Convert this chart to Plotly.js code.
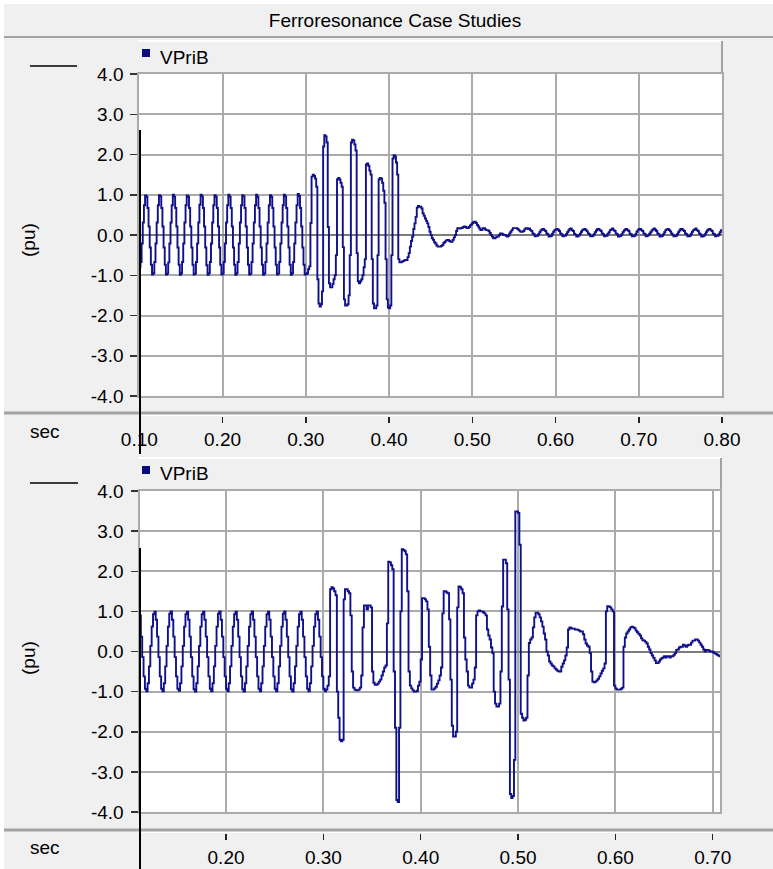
<!DOCTYPE html>
<html>
<head>
<meta charset="utf-8">
<script src="https://cdn.plot.ly/plotly-3.0.1.min.js"></script>
<style>html,body{margin:0;padding:0;background:#f0f0f0;}#chart{width:773px;height:869px;}</style>
</head>
<body>
<div id="chart"></div>
<script>
// ---------------- data ----------------
const TITLE = "Ferroresonance Case Studies";
const SERIES_NAME = "VPriB";
const Y_UNIT = "(pu)";
const X_UNIT = "sec";
const SAMPLE_DT = 1 / 720;          // sampling step of the recorded waveform (s)

// Case 1 (upper panel) — samples start at t = 0.10 s
const TOP_T0 = 0.10;
const TOP_RANGE = [0.10, 0.80];
const TOP_TICKS = [0.10, 0.20, 0.30, 0.40, 0.50, 0.60, 0.70, 0.80];
const TOP_TICK_LABELS = ["0.10", "0.20", "0.30", "0.40", "0.50", "0.60", "0.70", "0.80"];
const TOP_V = [
 -0.80,-0.67,-0.21,0.31,0.74,0.98,0.95,0.67,0.21,-0.31,-0.74,-0.98,
 -0.95,-0.67,-0.21,0.31,0.74,0.99,0.96,0.67,0.21,-0.31,-0.74,-0.98,
 -0.96,-0.68,-0.21,0.31,0.74,1.00,0.95,0.67,0.21,-0.31,-0.74,-0.99,
 -0.95,-0.67,-0.21,0.31,0.74,0.98,0.95,0.67,0.21,-0.31,-0.74,-0.98,
 -0.96,-0.67,-0.21,0.31,0.75,1.00,0.96,0.67,0.21,-0.31,-0.75,-0.99,
 -0.95,-0.67,-0.21,0.31,0.74,0.99,0.95,0.67,0.21,-0.31,-0.74,-0.98,
 -0.96,-0.67,-0.21,0.31,0.74,1.00,0.95,0.67,0.21,-0.31,-0.74,-0.99,
 -0.95,-0.67,-0.21,0.31,0.74,0.99,0.96,0.67,0.21,-0.31,-0.74,-0.98,
 -0.96,-0.67,-0.21,0.31,0.74,1.00,0.95,0.67,0.21,-0.31,-0.74,-0.99,
 -0.95,-0.67,-0.21,0.31,0.74,0.99,0.95,0.67,0.21,-0.31,-0.74,-0.98,
 -0.96,-0.67,-0.21,0.31,0.74,1.00,0.96,0.67,0.21,-0.31,-0.74,-0.99,
 -0.95,-0.67,-0.21,0.31,0.74,1.02,0.97,0.67,0.21,-0.31,-0.74,-0.98,
 -0.97,-0.95,-0.85,-0.78,0.30,1.45,1.50,1.47,1.40,1.20,-1.10,-1.70,
 -1.78,-1.72,-1.40,2.20,2.48,2.45,2.30,0.20,-1.20,-1.30,-1.30,-1.22,
 -1.10,-1.00,-0.50,1.38,1.42,1.38,1.30,1.20,-0.30,-1.60,-1.75,-1.75,
 -1.72,-1.50,-0.50,2.30,2.37,2.35,2.25,2.10,-0.45,-1.15,-1.20,-1.15,
 -1.10,-1.00,-0.80,-0.60,1.75,1.78,1.72,1.60,1.50,-0.60,-1.70,-1.82,
 -1.82,-1.75,-0.50,1.38,1.42,1.40,1.30,1.10,0.80,-0.60,-1.60,-1.80,
 -1.82,-1.75,-0.50,1.90,1.98,1.95,1.80,1.50,-0.60,-0.68,-0.68,-0.66,
 -0.65,-0.63,-0.62,-0.62,-0.55,-0.45,-0.29,-0.15,-0.04,0.15,0.29,0.45,
 0.68,0.72,0.70,0.70,0.66,0.54,0.48,0.41,0.35,0.29,0.20,0.08,
 0.00,-0.08,-0.12,-0.18,-0.21,-0.26,-0.29,-0.29,-0.29,-0.27,-0.25,-0.20,
 -0.17,-0.14,-0.12,-0.12,-0.15,-0.17,-0.17,-0.12,-0.06,0.00,0.10,0.17,
 0.17,0.16,0.17,0.18,0.20,0.21,0.20,0.17,0.17,0.20,0.24,0.26,
 0.30,0.33,0.33,0.30,0.25,0.21,0.16,0.12,0.13,0.17,0.17,0.14,
 0.12,0.12,0.10,0.05,0.00,-0.04,-0.08,-0.08,-0.06,-0.04,-0.04,0.00,
 0.04,0.04,0.02,0.00,0.00,-0.02,-0.04,-0.02,0.04,0.08,0.12,0.17,
 0.17,0.17,0.17,0.15,0.12,0.09,0.08,0.08,0.10,0.14,0.17,0.17,
 0.15,0.16,0.12,0.10,0.04,0.02,-0.03,-0.02,-0.02,0.02,0.07,0.11,
 0.14,0.15,0.12,0.10,0.04,0.02,-0.04,-0.03,-0.02,0.03,0.08,0.12,
 0.14,0.15,0.13,0.10,0.04,0.02,-0.03,-0.02,-0.02,0.02,0.07,0.11,
 0.15,0.16,0.12,0.10,0.03,0.01,-0.04,-0.03,-0.01,0.03,0.08,0.12,
 0.14,0.15,0.12,0.09,0.04,0.02,-0.03,-0.03,-0.02,0.02,0.07,0.11,
 0.15,0.15,0.12,0.10,0.04,0.02,-0.03,-0.02,-0.02,0.03,0.07,0.12,
 0.14,0.16,0.12,0.10,0.04,0.02,-0.04,-0.03,-0.02,0.02,0.07,0.11,
 0.14,0.15,0.12,0.10,0.03,0.02,-0.03,-0.03,-0.02,0.02,0.08,0.12,
 0.15,0.15,0.12,0.10,0.04,0.02,-0.03,-0.02,-0.01,0.03,0.07,0.11,
 0.14,0.16,0.13,0.10,0.04,0.02,-0.04,-0.03,-0.02,0.02,0.07,0.12,
 0.14,0.15,0.12,0.09,0.04,0.01,-0.03,-0.03,-0.02,0.02,0.07,0.11,
 0.15,0.15,0.12,0.10,0.04,0.02,-0.03,-0.03,-0.02,0.03,0.08,0.12,
 0.14,0.16,0.12,0.10,0.04,0.02,-0.04,-0.03,-0.02,0.02,0.07,0.11,
 0.14,0.15,0.12,0.10,0.03,0.02,-0.03,-0.02,-0.02,0.02,0.07,0.12,
 0.14
];

// Case 2 (lower panel) — samples start at t = 0.1111 s
const BOT_T0 = 0.1111;
const BOT_RANGE = [0.1111, 0.7075];
const BOT_TICKS = [0.20, 0.30, 0.40, 0.50, 0.60, 0.70];
const BOT_TICK_LABELS = ["0.20", "0.30", "0.40", "0.50", "0.60", "0.70"];
const BOT_V = [
 0.90,0.37,-0.14,-0.62,-0.93,-0.99,-0.79,-0.37,0.14,0.62,0.93,0.99,
 0.79,0.37,-0.14,-0.62,-0.93,-0.99,-0.79,-0.37,0.14,0.62,0.94,1.00,
 0.79,0.37,-0.14,-0.62,-0.93,-0.98,-0.79,-0.37,0.14,0.62,0.93,0.99,
 0.79,0.37,-0.14,-0.62,-0.94,-1.00,-0.79,-0.37,0.14,0.62,0.93,0.99,
 0.79,0.37,-0.14,-0.62,-0.93,-0.99,-0.79,-0.37,0.14,0.62,0.94,1.00,
 0.79,0.37,-0.14,-0.62,-0.93,-0.99,-0.79,-0.37,0.14,0.62,0.93,0.99,
 0.79,0.37,-0.14,-0.62,-0.94,-1.00,-0.79,-0.37,0.14,0.62,0.93,1.00,
 0.79,0.37,-0.14,-0.62,-0.93,-0.99,-0.79,-0.37,0.14,0.62,0.93,0.99,
 0.79,0.37,-0.14,-0.62,-0.93,-0.99,-0.79,-0.37,0.14,0.62,0.94,1.00,
 0.79,0.37,-0.14,-0.62,-0.94,-1.00,-0.79,-0.37,0.14,0.62,0.93,0.99,
 0.79,0.37,-0.14,-0.62,-0.93,-0.99,-0.79,-0.37,0.14,0.62,0.93,1.00,
 0.79,0.37,-0.14,-0.62,-0.93,-0.99,-0.95,-0.85,-0.62,1.55,1.60,1.57,
 1.50,1.40,-1.00,-1.65,-2.20,-2.24,-2.20,1.30,1.55,1.55,1.50,1.45,
 0.90,-0.50,-0.90,-0.95,-0.97,-0.97,-0.95,-0.90,-0.60,0.60,1.15,1.15,
 1.05,1.15,1.15,1.10,-0.50,-0.78,-0.83,-0.83,-0.80,-0.75,-0.70,-0.60,
 -0.50,-0.40,-0.35,0.70,2.24,2.22,2.15,2.05,-0.50,-1.90,-3.70,-3.75,
 -1.90,1.00,2.55,2.53,2.50,2.42,1.50,-0.50,-0.85,-0.92,-0.97,-1.00,
 -1.00,-0.98,-0.85,-0.75,-0.20,1.33,1.33,1.30,1.25,1.05,0.12,-0.60,
 -0.95,-0.95,-0.92,-0.88,-0.80,-0.72,-0.60,-0.40,0.95,1.50,1.50,1.47,
 1.45,0.80,-0.70,-1.85,-2.12,-2.12,-2.00,1.10,1.62,1.60,1.55,1.45,
 0.35,-0.20,-0.50,-0.85,-0.90,-0.90,-0.80,-0.70,-0.40,0.90,1.00,1.02,
 1.00,1.00,0.98,0.95,0.90,0.55,0.40,0.30,0.10,-0.04,-1.00,-1.30,
 -1.37,-1.37,-1.30,-0.50,1.12,2.29,2.29,2.20,1.05,-0.70,-3.55,-3.65,
 -3.60,-2.70,3.49,3.49,3.45,2.66,-1.55,-1.65,-1.72,-1.70,-1.65,-0.60,
 0.21,0.30,0.35,0.60,0.85,0.97,0.97,0.93,0.85,0.75,0.62,0.45,
 0.30,0.00,-0.10,-0.25,-0.30,-0.35,-0.37,-0.42,-0.45,-0.48,-0.50,-0.50,
 -0.38,-0.30,-0.22,-0.10,0.10,0.55,0.60,0.58,0.57,0.57,0.55,0.55,
 0.54,0.52,0.50,0.50,0.43,0.30,0.20,0.15,0.12,-0.04,-0.50,-0.75,
 -0.77,-0.75,-0.72,-0.68,-0.62,-0.55,-0.48,-0.42,-0.30,1.00,1.13,1.12,
 1.10,1.05,1.00,-0.85,-0.92,-0.95,-0.95,-0.95,-0.93,-0.90,0.12,0.35,
 0.45,0.50,0.55,0.60,0.62,0.60,0.58,0.52,0.48,0.44,0.40,0.33,
 0.28,0.27,0.24,0.20,0.12,0.05,-0.04,-0.10,-0.16,-0.22,-0.29,-0.29,
 -0.25,-0.20,-0.17,-0.15,-0.12,-0.15,-0.12,-0.12,-0.15,-0.12,-0.12,-0.08,
 -0.04,0.04,0.05,0.10,0.12,0.12,0.17,0.15,0.12,0.15,0.17,0.17,
 0.22,0.27,0.27,0.30,0.30,0.27,0.22,0.17,0.12,0.05,0.00,0.04,
 0.04,0.02,0.00,0.00,-0.02,-0.04,-0.06,-0.08,-0.10,-0.12,-0.14
];

const Y_TICKS = [-4, -3, -2, -1, 0, 1, 2, 3, 4];
const Y_TICK_LABELS = ["-4.0", "-3.0", "-2.0", "-1.0", "0.0", "1.0", "2.0", "3.0", "4.0"];

// ---------------- layout helpers (pixel -> paper) ----------------
const W = 773, H = 869;
const px = x => x / W;
const py = y => 1 - y / H;
const FONT = "Liberation Sans, Arial, sans-serif";
const FS = 19;
const LINE_COLOR = "#10108a";
const GRID = "#ababab";
const SEP = "#a3a3a3";

const traces = [
  { type: "scatter", mode: "lines", name: SERIES_NAME, y: TOP_V, x0: TOP_T0, dx: SAMPLE_DT,
    xaxis: "x", yaxis: "y", line: { color: LINE_COLOR, width: 1.9, shape: "hv" }, hoverinfo: "skip", showlegend: false },
  { type: "scatter", mode: "lines", name: SERIES_NAME, y: BOT_V, x0: BOT_T0, dx: SAMPLE_DT,
    xaxis: "x2", yaxis: "y2", line: { color: LINE_COLOR, width: 1.9, shape: "hv" }, hoverinfo: "skip", showlegend: false },
  // empty carriers for the separate time-axis strips (nothing is drawn)
  { type: "scatter", mode: "none", x: TOP_RANGE, y: [0, 0], xaxis: "x3", yaxis: "y3", hoverinfo: "skip", showlegend: false },
  { type: "scatter", mode: "none", x: BOT_RANGE, y: [0, 0], xaxis: "x4", yaxis: "y4", hoverinfo: "skip", showlegend: false }
];

function plotX(domain, range, ticks, anchor) {
  return { domain, range, anchor, tickvals: ticks, showticklabels: false, ticks: "",
    showgrid: true, gridcolor: GRID, gridwidth: 2, zeroline: false,
    showline: true, mirror: true, linecolor: GRID, linewidth: 2, fixedrange: true };
}
function plotY(domain, anchor) {
  return { domain, range: [-4, 4], anchor, tickvals: Y_TICKS, ticktext: Y_TICK_LABELS,
    ticks: "outside", ticklen: 7, tickwidth: 1.5, tickcolor: "#333", ticklabelstandoff: 3,
    tickfont: { family: FONT, size: FS, color: "#000" },
    showgrid: true, gridcolor: GRID, gridwidth: 2,
    zeroline: true, zerolinecolor: "#7c7c7c", zerolinewidth: 2,
    showline: true, mirror: true, linecolor: GRID, linewidth: 2, fixedrange: true };
}
function tickX(domain, range, ticks, labels, anchor, standoff) {
  return { domain, range, anchor, tickvals: ticks, ticktext: labels,
    ticks: "outside", ticklen: 6, tickwidth: 1.5, tickcolor: "#222", ticklabelstandoff: standoff,
    tickfont: { family: FONT, size: FS, color: "#000" },
    showgrid: false, zeroline: false, showline: false, fixedrange: true };
}
function hiddenY(domain, anchor) {
  return { domain, anchor, range: [-1, 1], visible: false, fixedrange: true };
}

const topXDom = [px(139.3), px(722)];
const botXDom = [px(139.5), px(720)];

function line(x0, y0, x1, y1, color, width, layer) {
  return { type: "line", xref: "paper", yref: "paper", x0: px(x0), y0: py(y0), x1: px(x1), y1: py(y1),
    line: { color, width }, layer: layer || "above" };
}
function rect(x0, y0, x1, y1, fill, layer) {
  return { type: "rect", xref: "paper", yref: "paper", x0: px(x0), y0: py(y0), x1: px(x1), y1: py(y1),
    fillcolor: fill, line: { width: 0 }, layer: layer || "below" };
}

const shapes = [
  rect(0, 0, 773, 4, "#ffffff"),
  rect(0, 0, 4, 869, "#ffffff"),
  line(4, 37, 773, 37, SEP, 2, "below"),
  // legend bars
  line(138, 41, 722, 41, "#ffffff", 2, "below"),
  line(722, 41, 722, 74, SEP, 2, "below"),
  rect(142, 49, 150, 57, "#0a0a80", "above"),
  line(138, 458, 722, 458, "#ffffff", 2, "below"),
  line(721, 458, 721, 491, SEP, 2, "below"),
  rect(142, 466, 150, 474, "#0a0a80", "above"),
  // unit markers
  line(30, 66, 77, 66, "#000", 1.5),
  line(30, 483, 78, 483, "#000", 1.5),
  // axis separators
  line(4, 413, 773, 413, SEP, 3, "below"),
  line(4, 830, 773, 830, SEP, 3, "below"),
  // cursor lines
  line(140, 130, 140, 454, "#000", 2),
  line(140, 548, 140, 869, "#000", 2)
];

function ann(text, x, y, opts) {
  return Object.assign({ text, xref: "paper", yref: "paper", x: px(x), y: py(y), showarrow: false,
    xanchor: "left", yanchor: "middle", font: { family: FONT, size: FS, color: "#000" } }, opts || {});
}
const annotations = [
  ann(SERIES_NAME, 158, 57),
  ann(SERIES_NAME, 158, 474),
  ann(Y_UNIT, 28, 240, { textangle: -90, xanchor: "center" }),
  ann(Y_UNIT, 28, 658, { textangle: -90, xanchor: "center" }),
  ann(X_UNIT, 45, 431, { xanchor: "center" }),
  ann(X_UNIT, 45, 847, { xanchor: "center" })
];

const layout = {
  width: W, height: H,
  margin: { l: 0, r: 0, t: 0, b: 0, pad: 0 },
  paper_bgcolor: "#f0f0f0", plot_bgcolor: "#ffffff",
  showlegend: false,
  font: { family: FONT, size: FS, color: "#000" },
  title: { text: TITLE, x: px(395), xanchor: "center", y: py(20), yanchor: "middle",
    font: { family: FONT, size: FS, color: "#000" } },
  xaxis: plotX(topXDom, TOP_RANGE, TOP_TICKS, "y"),
  yaxis: plotY([py(396), py(74)], "x"),
  xaxis2: plotX(botXDom, BOT_RANGE, BOT_TICKS, "y2"),
  yaxis2: plotY([py(812), py(491)], "x2"),
  xaxis3: tickX(topXDom, TOP_RANGE, TOP_TICKS, TOP_TICK_LABELS, "y3", 0),
  yaxis3: hiddenY([py(416), py(414)], "x3"),
  xaxis4: tickX(botXDom, BOT_RANGE, BOT_TICKS, BOT_TICK_LABELS, "y4", 1),
  yaxis4: hiddenY([py(833), py(831)], "x4"),
  shapes, annotations
};

Plotly.newPlot("chart", traces, layout, { displayModeBar: false, staticPlot: true });
</script>
</body>
</html>
